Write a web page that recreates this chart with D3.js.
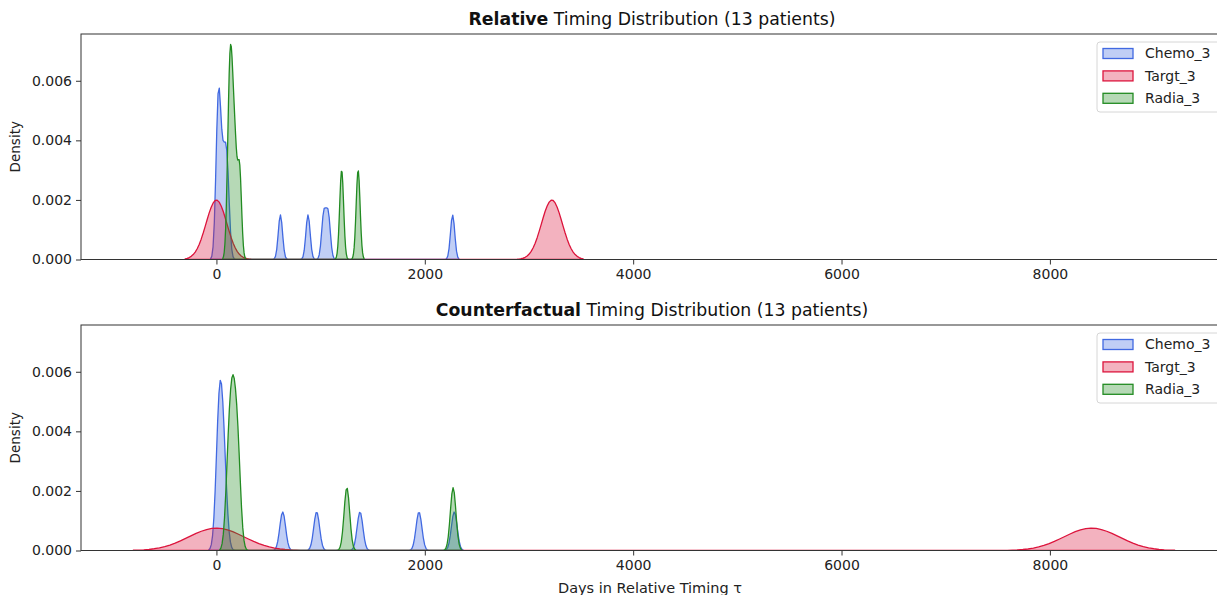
<!DOCTYPE html>
<html>
<head>
<meta charset="utf-8">
<script src="https://cdn.jsdelivr.net/npm/d3@7"></script>
<style>
  html, body { margin: 0; padding: 0; background: #fff; }
  svg { display: block; font-family: "DejaVu Sans", sans-serif; }
</style>
</head>
<body>
<svg id="chart" width="1217" height="595"></svg>
<script>
// ---------------- data ----------------
const seriesNames = ["Chemo_3", "Targt_3", "Radia_3"];
const seriesColors = ["#4169E1", "#DC143C", "#228B22"];

// Event timings (days) per treatment, relative timing
const relChemo = [5, 15, 25, 30, 55, 75, 95, 110, 614, 879, 1030, 1073, 2267];
const relTargt = [0, 3220];
const relRadia = [118, 135, 152, 180, 222, 1202, 1360];
// Event timings (days) per treatment, counterfactual timing
const cfChemo = [10, 24, 34, 46, 62, 82, 636, 962, 1378, 1944, 2283];
const cfTargt = [0, 8400];
const cfRadia = [112, 140, 160, 184, 212, 1252, 2272];

// KDE bandwidths (days)
const relBandwidth = [20.5, 100, 19];
const cfBandwidth = [28, 266, 27];

const panelTitlesBold = ["Relative", "Counterfactual"];
const panelTitlesRest = [" Timing Distribution (13 patients)", " Timing Distribution (13 patients)"];
const xTicks = [0, 2000, 4000, 6000, 8000];
const yTicks = [0, 0.002, 0.004, 0.006];
const xDomain = [-1300, 9700];
const yDomain = [0, 0.00757];
const xLabel = "Days in Relative Timing \u03C4";
const yLabel = "Density";

// ---------------- layout ----------------
const svg = d3.select("#chart");
const left = 81, right = 1227;
const panels = [
  { top: 34, bottom: 259.5, samples: [relChemo, relTargt, relRadia], bw: relBandwidth },
  { top: 325, bottom: 550.5, samples: [cfChemo, cfTargt, cfRadia], bw: cfBandwidth }
];

const x = d3.scaleLinear().domain(xDomain).range([left, right]);

function kde(samples, bw, gridsize) {
  const lo = d3.min(samples) - 3 * bw, hi = d3.max(samples) + 3 * bw;
  const n = samples.length;
  const norm = 1 / (n * bw * Math.sqrt(2 * Math.PI));
  const pts = [];
  for (let i = 0; i < gridsize; i++) {
    const t = lo + (hi - lo) * i / (gridsize - 1);
    let s = 0;
    for (const v of samples) { const z = (t - v) / bw; s += Math.exp(-0.5 * z * z); }
    pts.push([t, s * norm]);
  }
  return pts;
}

panels.forEach((p, pi) => {
  const y = d3.scaleLinear().domain(yDomain).range([p.bottom, p.top]);
  const g = svg.append("g");

  const clipId = "clip" + pi;
  svg.append("clipPath").attr("id", clipId).append("rect")
    .attr("x", left).attr("y", p.top).attr("width", right - left).attr("height", p.bottom - p.top);

  const plot = g.append("g").attr("clip-path", `url(#${clipId})`);
  const area = d3.area().x(d => x(d[0])).y0(y(0)).y1(d => y(d[1]));

  p.samples.forEach((s, si) => {
    const pts = kde(s, p.bw[si], 200);
    plot.append("path").datum(pts)
      .attr("d", d => area(d))
      .attr("fill", seriesColors[si]).attr("fill-opacity", 0.33)
      .attr("stroke", seriesColors[si]).attr("stroke-width", 1.3)
      .attr("stroke-linejoin", "round");
  });

  // spines
  g.append("rect").attr("x", left).attr("y", p.top).attr("width", right - left).attr("height", p.bottom - p.top)
    .attr("fill", "none").attr("stroke", "#333").attr("stroke-width", 1);

  // axes
  const xa = g.append("g").attr("transform", `translate(0,${p.bottom})`)
    .call(d3.axisBottom(x).tickValues(xTicks).tickFormat(d3.format("d")).tickSize(5).tickPadding(5));
  const ya = g.append("g").attr("transform", `translate(${left},0)`)
    .call(d3.axisLeft(y).tickValues(yTicks).tickFormat(d3.format(".3f")).tickSize(5).tickPadding(4));
  [xa, ya].forEach(a => {
    a.select(".domain").remove();
    a.selectAll("line").attr("stroke", "#333");
    a.selectAll("text").attr("fill", "#222").style("font-size", "14px").style("font-family", "DejaVu Sans, sans-serif");
  });

  // y label
  g.append("text").attr("transform", `translate(20,${(p.top + p.bottom) / 2}) rotate(-90)`)
    .attr("text-anchor", "middle").attr("fill", "#222").style("font-size", "13.5px").text(yLabel);

  // title
  const title = g.append("text").attr("x", (left + right) / 2 - 2).attr("y", p.top - 9)
    .attr("text-anchor", "middle").attr("fill", "#111").style("font-size", "17.3px");
  title.append("tspan").attr("font-weight", "bold").text(panelTitlesBold[pi]);
  title.append("tspan").text(panelTitlesRest[pi]);

  // legend
  const lx = 1097, ly = p.top + 8;
  const lg = g.append("g");
  lg.append("rect").attr("x", lx).attr("y", ly).attr("width", 124).attr("height", 70).attr("rx", 3)
    .attr("fill", "#fff").attr("fill-opacity", 0.8).attr("stroke", "#d6d6d6");
  seriesNames.forEach((name, i) => {
    const cy = ly + 11.5 + i * 22.4;
    lg.append("rect").attr("x", lx + 6).attr("y", cy - 5).attr("width", 30).attr("height", 10)
      .attr("fill", seriesColors[i]).attr("fill-opacity", 0.33)
      .attr("stroke", seriesColors[i]).attr("stroke-width", 1.3);
    lg.append("text").attr("x", lx + 48).attr("y", cy).attr("dy", "0.35em")
      .attr("fill", "#222").style("font-size", "14px").text(name);
  });
});

// x label (bottom panel only)
svg.append("text").attr("x", (left + right) / 2 - 4).attr("y", 593)
  .attr("text-anchor", "middle").attr("fill", "#222").style("font-size", "14.5px").text(xLabel);
</script>
</body>
</html>
